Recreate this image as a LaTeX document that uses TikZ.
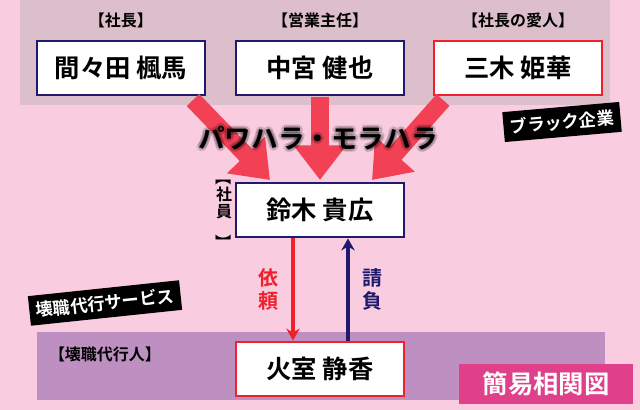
\documentclass[tikz,border=0pt]{standalone}
\usepackage{fontspec}
\setmainfont{Noto Sans CJK JP}[BoldFont={Noto Sans CJK JP Bold}]
\usetikzlibrary{positioning,arrows.meta}
\definecolor{bgpink}{HTML}{F9CCE0}
\definecolor{bandtop}{HTML}{DDBFCB}
\definecolor{bandbot}{HTML}{BE8FC1}
\definecolor{navy}{HTML}{1F1A6E}
\definecolor{boxred}{HTML}{F0202C}
\definecolor{arrred}{HTML}{F24055}
\definecolor{tagpink}{HTML}{E0408A}

\begin{document}
\begin{tikzpicture}[x=0.75pt,y=-0.75pt,
    person/.style={draw, line width=1.6pt, fill=white, minimum width=126pt, minimum height=41pt, font=\bfseries\fontsize{19}{19}\selectfont},
    role/.style={font=\bfseries\fontsize{12}{12}\selectfont},
    tag/.style={fill=black, text=white, font=\bfseries\fontsize{13}{13}\selectfont, inner sep=5pt},
    power/.style={arrred, line width=13pt, -{Triangle[length=26pt,width=38pt]}},
    glow/.style={font=\bfseries\fontsize{20}{20}\selectfont, text=black, text opacity=0.12}
]
    \useasboundingbox (0,0) rectangle (640,410);
    \fill[bgpink] (0,0) rectangle (640,410);
    \fill[bandtop] (20,0) rectangle (610,105);
    \fill[bandbot] (37,332) rectangle (605,400);

    % People
    \node[person, draw=navy] (boss) at (121,68) {間々田 楓馬};
    \node[person, draw=navy] (chief) at (320,68) {中宮 健也};
    \node[person, draw=boxred] (lover) at (518,68) {三木 姫華};
    \node[person, draw=navy] (staff) at (320,210) {鈴木 貴広};
    \node[person, draw=boxred] (agent) at (320,369) {火室 静香};

    % Roles
    \node[role] at (121,20) {【社長】};
    \node[role] at (320,20) {【営業主任】};
    \node[role] at (518,20) {【社長の愛人】};
    \node[role, align=center, inner sep=0pt, left=2pt of staff, font=\bfseries\fontsize{12}{13}\selectfont] {\rotatebox{-90}{【}\\社\\員\\\rotatebox{-90}{】}};
    \node[role] at (105,354) {【壊職代行人】};

    % Harassment
    \draw[power] (193,100) -- (270,180);
    \draw[power] (320,97) -- (320,180);
    \draw[power] (443,100) -- (372,180);
    \foreach \dx/\dy in {-3/0,3/0,0/-3,0/3,-2/-2,2/2,-2/2,2/-2}
        \node[glow] at (318+\dx,138+\dy) {パワハラ・モラハラ};
    \node[font=\bfseries\fontsize{20}{20}\selectfont] (harass) at (318,138) {パワハラ・モラハラ};

    % Request / contract
    \draw[boxred, line width=2.5pt, -{Stealth[length=9pt,width=10pt]}] (staff.south -| 293,0) -- (agent.north -| 293,0)
        node[midway, left=6pt, align=center, font=\bfseries\fontsize{15}{17}\selectfont, text=boxred] {依\\頼};
    \draw[navy, line width=2.5pt, -{Stealth[length=9pt,width=10pt]}] (agent.north -| 348,0) -- (staff.south -| 348,0)
        node[midway, right=6pt, align=center, font=\bfseries\fontsize{15}{17}\selectfont, text=navy] {請\\負};

    % Tags
    \node[tag, rotate=5] (black) at (562,122) {ブラック企業};
    \node[tag, rotate=6] (service) at (105,303) {壊職代行サービス};
    \node[fill=tagpink, text=white, font=\bfseries\fontsize{19}{19}\selectfont, inner sep=4pt, minimum width=130pt, minimum height=30pt] (title) at (546,384) {簡易相関図};
\end{tikzpicture}
\end{document}
